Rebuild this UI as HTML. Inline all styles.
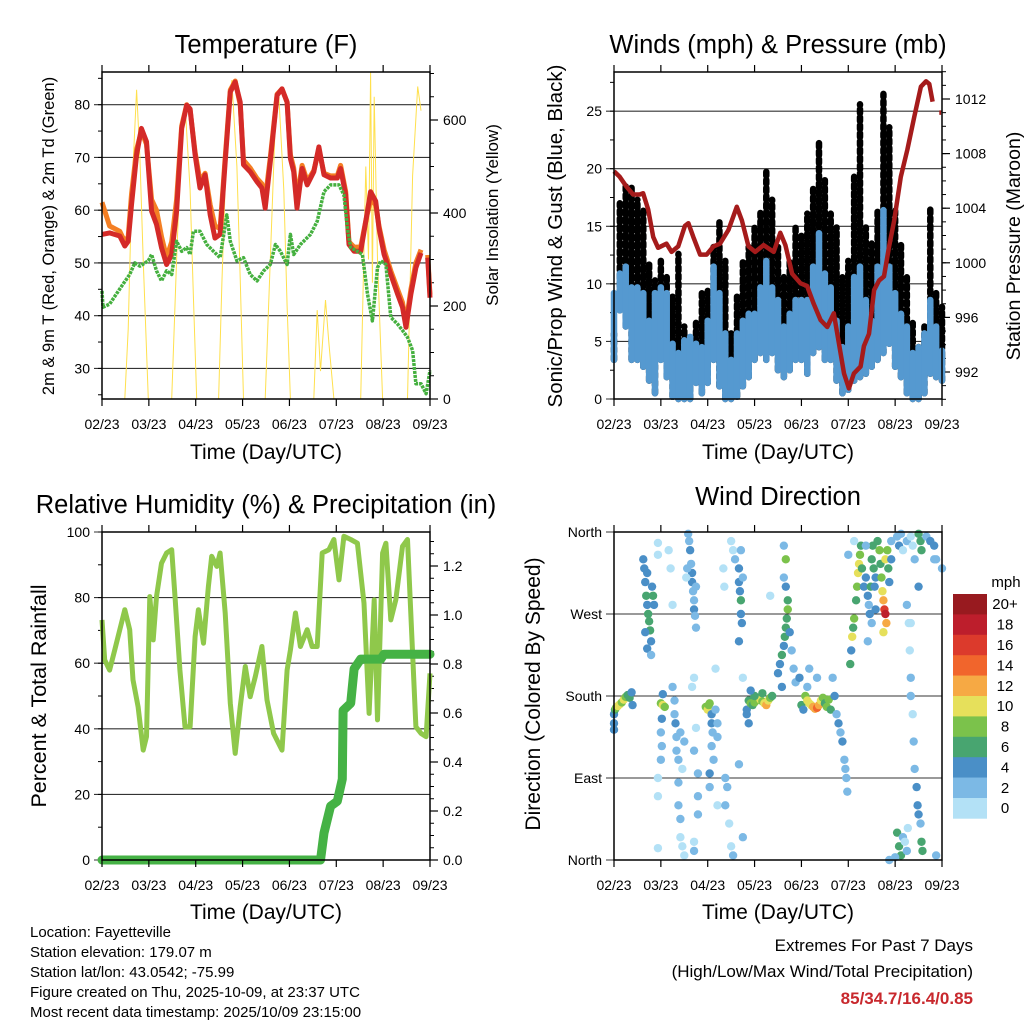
<!DOCTYPE html>
<html><head><meta charset="utf-8"><style>
html,body{margin:0;padding:0;background:#fff;}
svg{display:block;font-family:"Liberation Sans",Arial,sans-serif;}
</style></head><body>
<svg id="chart" width="1024" height="1024" viewBox="0 0 1024 1024" xmlns="http://www.w3.org/2000/svg">
<rect width="1024" height="1024" fill="#fff"/>
<g id="layer"></g>
<g font-size="15" fill="#000">
<text x="30" y="937">Location: Fayetteville</text>
<text x="30" y="957">Station elevation: 179.07 m</text>
<text x="30" y="977">Station lat/lon: 43.0542; -75.99</text>
<text x="30" y="997">Figure created on Thu, 2025-10-09, at 23:37 UTC</text>
<text x="30" y="1017">Most recent data timestamp: 2025/10/09 23:15:00</text>
</g>
<g text-anchor="end">
<text x="973" y="951" font-size="17">Extremes For Past 7 Days</text>
<text x="973" y="977" font-size="17">(High/Low/Max Wind/Total Precipitation)</text>
<text x="973" y="1004" font-size="17" font-weight="bold" fill="#c8282d">85/34.7/16.4/0.85</text>
</g>
</svg>
<script>
// ---------- DATA ----------
const dayLabels = ["02/23","03/23","04/23","05/23","06/23","07/23","08/23","09/23"];
// Temperature panel
const tHours = [0,3.9,9.1,11.7,13.4,15.1,17.7,20.2,22.8,25.4,27.9,30.5,33.1,35.7,38.2,40.8,43.4,45.1,47.7,50.2,52.8,55.4,57.9,60.5,63.1,65.7,68.2,70.8,72.5,75.9,79.4,81.9,83.6,86.2,89.7,92.2,94.8,96.5,98.2,99.9,102.5,105.1,108.5,111.1,113.7,117.1,120.5,122.2,124.8,126.5,129.1,132.5,135.1,137.6,140.2,141.9,144.5,147.9,151.4,153.9,155.7,158.2,160.8,163.4,165,166.8,168];
const temp2m = [55.4,55.7,55.1,53.2,54.1,61.0,70.5,75.5,73.0,59.8,57.3,52.9,49.7,51.6,59.8,75.5,79.9,79.2,70.5,64.2,66.7,59.1,54.7,55.4,69.2,82.4,84.3,80.5,68.6,67.3,65.4,64.2,60.4,69.2,81.8,83.0,80.5,69.8,67.3,60.4,67.9,64.8,67.3,72.0,66.7,66.1,66.1,67.9,62.9,53.5,52.2,52.2,57.9,63.5,61.7,56.6,51.6,47.8,44.1,41.6,37.8,44.1,49.1,51.9,null,51.0,43.4];
const temp9m = [61.5,57,56,54,55,63,71.5,75,72.5,62,60,55,51,54,62,76,80,79,71,65.5,67,61,57,56.5,70,82.8,84.5,80,69.5,68,66,65,62,70,82,83,80.5,70.5,68,62,68.5,65.5,67.5,71.5,67,66.5,66.5,68.5,63.5,54,53,53,58,62,61,57,52.5,48.5,45,42.5,38.5,45,50,52.5,null,51.5,44];
const tdHours = [0,0.5,3.9,7.4,10.8,14.2,16.8,19.4,23.7,25.4,27.9,30.5,33.1,35.7,38.2,40.8,43.4,45.1,46.8,50.2,53.7,57.1,60.5,63.9,65.7,69.1,72.5,75.9,79.4,82.8,86.2,88.8,91.4,94.8,96.5,98.2,101.6,106.8,110.2,113.7,117.1,121.4,123.9,125.7,127.4,130.8,133.4,136,138.5,141.1,142.8,145.4,147.9,151.4,153.9,156.5,159.1,160.8,163.4,166,168];
const dewpoint = [44.7,41.6,42.2,44.1,46.0,47.8,50.0,49.4,50.4,51.6,48.5,46.6,48.5,47.8,54.1,52.2,52.9,51.6,56.0,56.0,53.5,52.2,51.0,59.1,54.1,50.4,51.0,47.8,46.6,48.5,49.7,53.5,52.2,49.7,55.4,51.6,53.5,55.4,57.9,63.5,64.8,64.8,62.9,56.6,52.9,52.2,51.6,44.1,39.0,49.1,50.4,49.7,39.7,38.4,37.2,35.9,33.4,27.1,27.1,25.2,29.6];
const solarHours = [0,11.7,13.4,15.1,17.7,19.4,21.1,23.7,35.7,38.2,40.8,42.5,45.1,46.8,48.5,59.7,61.4,63.9,66.5,69.1,70.8,72.5,83.6,86.2,88.8,90.5,93.1,94.8,96.5,108.5,110.2,111.9,114.5,116.2,118.8,132.5,135.1,136.5,137.6,138.5,139.4,141.1,143.7,156.5,159.1,161.7,163.4];
const solar = [0,0,150,430,665,520,300,0,0,300,580,636,450,220,0,0,250,560,686,500,260,0,0,300,600,657,450,200,0,0,191,60,213,120,0,0,500,300,704,250,650,300,0,0,480,672,620];
// Wind panel
const windHours = [0,3,6,9,12,15,18,21,24,27,30,33,36,39,42,45,48,51,54,57,60,63,66,69,72,75,78,81,84,87,90,93,96,99,102,105,108,111,114,117,120,123,126,129,132,135,138,141,144,147,150,153,156,159,162,165,168];
const gustHi = [5.7,17,18.7,18.4,17.3,16.4,12,10.3,12,10.6,9.2,12.6,6.3,4.8,6.8,9.2,9.7,13.2,15.5,12,5.7,9.2,12,13.2,14.9,16.4,19.9,17.3,13.2,10.9,12,14.9,14.4,16.1,18.4,22.5,19,16.1,14.9,10.6,12,19.3,25.6,14.9,13.5,16.4,26.5,23.6,16.4,13.5,10.6,6.8,4.8,6.3,16.7,9.2,8];
const windHi = [9.2,10.9,11.5,9.7,9.7,9.2,6.8,9.2,9.7,9.2,4.8,4,5.1,5.4,4.8,4.5,6.8,11.5,9.2,5.7,3.4,5.7,6.8,7.4,7.4,9.7,12,9.7,8.6,6.3,7.4,8.6,8.6,8.6,11.5,14.4,10.9,9.7,6.8,4.5,6.3,10.6,11.5,8.6,6.8,11.5,16.4,11.5,9.2,7.4,6.3,4,4.5,5.7,8.6,6.3,4.2];
const windLo = [3.4,7.7,6.3,3.4,3.4,2.8,1.6,0.5,3.4,1.9,0.2,0,0,0,1.4,0.5,1.4,3.4,1.1,0,0,0.2,1.1,1.9,3.4,4,3.4,4,2.5,1.9,2.5,3.4,3.4,2.2,4,4.5,3.4,3.4,1.6,0.5,0.8,1.6,1.9,2.2,2.8,3.4,4,4.8,2.8,1.9,0.5,0,0,0.5,2.2,1.9,1.6];
const presHours = [0,2.9,6.3,9.8,13.2,14.9,17.5,20.1,22.6,26.9,29.5,32.9,36.3,38.1,40.6,44.1,47.5,50.9,54.3,58.6,62.9,65.5,68.9,72.3,76.6,81.8,85.2,87.8,91.2,95.5,98.9,102.3,105.8,109.2,112.6,115.2,117.8,120.3,122.9,126.3,128,130.6,133.2,135.8,138.3,140.9,143.5,146.9,150.3,153.8,157.2,159.8,161.5,163.2,165,166.6,167.6];
const pressure = [1006.7,1006.3,1005.6,1005,1005,1005.1,1003.9,1001.9,1001.1,1001.4,1000.8,1001.2,1002.7,1002.9,1001.9,1000.6,1000.6,1001.2,1001.4,1002.4,1004.1,1003.1,1001.2,1000.8,1001.3,1000.8,1002.2,1001.3,999.2,998.5,998.3,997,995.8,995.3,996.3,994.1,991.9,990.8,991.9,992.4,993.9,994.8,998,998.7,999,1001.2,1003.1,1006.3,1008.3,1010.7,1012.9,1013.3,1013.1,1011.8,null,1011,1011];
// RH panel
const rhHours = [0,1.4,3.9,6.5,9.1,11.7,14.2,15.9,18.5,21.1,22.8,24.5,26.2,27.9,30.5,33.1,35.7,37.4,39.9,42.5,45.1,47.7,49.4,52,54.5,56.2,58.8,60.5,63.1,65.7,68.2,70.8,73.4,75.9,78.5,81.9,84.5,87.9,92.2,94.8,96.5,99.1,101.6,105.1,107.6,110.2,112.8,116.2,118.8,121.4,123.9,127.4,130.8,134.2,136.8,139.4,141.1,143.7,145.4,147.9,150.5,153.9,156.5,159.1,160.8,163.4,166,168];
const rh = [73.2,61,57.9,64,70.2,76.3,70.2,54.9,46.7,33.5,37.6,80.3,67.1,80.3,90.5,93.6,94.6,80.3,57.9,40.6,40.6,68.1,76.3,66.1,83.4,92.6,89.5,93.6,75.3,47.8,32.5,46.7,59,49.8,55.9,65.1,48.8,38.6,33.5,57.9,64,75.3,65.1,70.2,65.1,65.1,93.6,94.6,97.7,85.4,98.7,97.7,96.6,78.3,44.7,79.3,42.7,93.6,96.6,73.2,79.3,95.6,97.7,63,40.6,38.6,37.6,56.9];
const precipHours = [0,111.9,113.7,117.1,120.5,123.1,123.5,127.4,129.1,132.5,142.8,144.5,168];
const precip = [0,0,0.11,0.22,0.24,0.33,0.61,0.64,0.78,0.82,0.82,0.84,0.84];
// Wind direction panel
const wdHours = [0,0.5,1,2,3,4,5,6,7,8,9,9.5,0,0,15,15.5,16,16.5,17,17.5,18,18.5,19,16,17,19,20,20.5,19.5,17,22.5,22.5,22.5,22.5,22.5,24,25,26,24.5,24,24.5,24,25,28,29,30,30,31,31.5,32,32,33,33,33,34,34,35,36,31,34,36,35,38,38.5,39,39.5,40,40,40.5,41,41,41.5,42,37,37.5,42,41,40,42,41,43,43,43,41,41,47,48,48.5,49,50,50,50.5,50,51,49,49,52,53,53,52,53,56,56.5,57,57,58,59,60,61,60,61,62,64,64,64.5,65,65,65.5,64,66,65,66,64,66,68,69,70,71,72,73,74,75,76,77,78,79,80,81,72,76,70,68,69,84,85,86,87,87.5,88,88.5,89,89,88,87,88,87,90,91,92,93,86,80,96,97,98,99,100,101,102,103,104,105,106,107,108,109,110,111,99,95,100,104,112,113,114,115,116,117,118,119,119.5,118.5,121,121.5,122,122.5,123,124,124.5,125,125.5,126,126.5,127,123,120,128,129,130,130.5,131,131.5,132,132.5,133,133.5,134,134,132,130,129,135,136,136.5,137,137.5,138,138.5,139,139.5,138,139,140,140.5,141,142,142,145,146,147,148,150,152,153,154,156,157,157.5,160,162,164,165,168,145,146,147,148,149,150,150.5,144,141,150,151,151.5,152,152,153,153.5,154,155,155.5,156,157,157.5,158,156,152,165,164];
const wdDir = [160,165,167,169,171,173,176,179,181,178,184,170,150,143,330,320,305,290,280,270,262,252,240,250,232,225,290,280,300,315,348,335,90,70,13,172,170,168,155,140,125,110,182,340,320,280,190,160,150,135,120,110,85,60,45,25,15,5,175,140,130,100,358,350,340,325,315,305,295,285,275,268,300,310,320,255,200,190,145,120,95,70,50,20,10,168,165,170,172,160,150,140,125,110,95,80,165,150,135,210,60,320,300,60,90,80,40,15,5,350,340,330,320,305,295,285,270,260,240,310,340,200,105,25,165,175,172,170,173,175,178,176,174,172,170,175,178,180,180,183,186,160,150,205,215,225,235,245,255,265,275,285,300,310,330,345,250,230,210,195,190,290,170,165,180,175,172,170,168,166,167,170,175,178,172,168,176,165,190,200,210,200,200,180,160,150,140,130,110,90,75,100,215,230,245,255,265,285,300,315,325,335,345,320,350,335,300,310,290,280,270,300,330,345,320,300,310,275,260,240,345,350,340,325,310,295,285,275,270,260,250,330,340,320,305,330,350,355,345,358,340,350,355,345,330,358,350,340,355,350,345,330,320,30,15,5,25,20,10,35,3,0,280,260,230,200,180,160,130,100,80,60,50,40,20,10,300,260,5,330];
const wdSpeed = [5,6,8,10,10,9,10,8,7,6,4,4,4,4,4,4,5,6,5,6,7,6,5,4,4,3,6,5,4,5,1,1,1,1,1,9,10,8,4,3,3,2,5,1,1,1,2,3,4,3,2,2,2,3,2,1,1,1,3,2,2,1,3,2,4,3,4,4,3,3,4,3,3,1,2,3,1,1,1,2,2,3,2,1,2,8,10,8,9,4,4,3,3,3,4,3,3,2,2,1,1,1,1,3,2,2,1,1,2,1,1,2,4,4,5,6,5,4,4,3,3,1,2,3,5,7,8,7,9,8,8,10,9,10,12,11,9,7,6,6,5,4,4,4,4,6,5,7,6,7,8,6,4,3,8,3,4,2,2,2,4,1,6,4,8,10,11,10,12,13,15,12,10,8,7,8,9,7,3,4,2,2,3,4,3,4,3,4,2,2,2,3,6,5,10,7,9,6,8,10,10,9,7,6,1,2,4,4,4,3,4,6,7,7,6,5,4,4,2,3,2,6,8,7,9,11,13,17,18,12,10,10,8,7,5,4,3,3,4,2,1,2,1,1,2,6,6,6,3,4,4,3,3,6,6,6,3,1,2,1,3,3,2,1,1,2,3,1,2,3,4,4,5,3,6,7,4,1,2,2];
const speedBins = [0,2,4,6,8,10,12,14,16,18,20];
const speedLabels = ["0","2","4","6","8","10","12","14","16","18","20+"];
const speedColors = ["#b3e1f6","#7cb9e5","#4a8fc7","#48a570","#7bc24b","#e6e05b","#f6a944","#f1652c","#dc3a2c","#bd1e2c","#981a1f"];

// ---------- HELPERS ----------
const NS = "http://www.w3.org/2000/svg";
const layer = document.getElementById("layer");
function mk(tag, attrs, parent){
  const e = document.createElementNS(NS, tag);
  for (const k in attrs) e.setAttribute(k, attrs[k]);
  (parent||layer).appendChild(e);
  return e;
}
function panel(x0,y0,x1,y1,ymin,ymax,name){
  return {x0,y0,x1,y1,
    x:h=>x0+h/168*(x1-x0),
    y:v=>y1-(v-ymin)/(ymax-ymin)*(y1-y0), name};
}
function pathFrom(hours, vals, xf, yf){
  let d="", pen=false;
  for(let i=0;i<hours.length;i++){
    if(vals[i]===null){pen=false;continue;}
    d += (pen?"L":"M")+xf(hours[i]).toFixed(1)+","+yf(vals[i]).toFixed(1);
    pen=true;
  }
  return d;
}
function frame(p, g){
  for(let i=0;i<dayLabels.length;i++){
    const x = p.x0 + i*(p.x1-p.x0)/7;
    const tb = mk("line",{x1:x,y1:p.y1,x2:x,y2:p.y1+7,stroke:"#000","stroke-width":1.2},g);
    
    
    const tt = mk("line",{x1:x,y1:p.y0,x2:x,y2:p.y0-7,stroke:"#000","stroke-width":1.2},g);
    
    
    const t = mk("text",{x:x,y:p.y1+30,"font-size":14,"text-anchor":"middle"},g);
    t.textContent = dayLabels[i];
    
    
  }
  const r = mk("rect",{x:p.x0,y:p.y0,width:p.x1-p.x0,height:p.y1-p.y0,fill:"none",stroke:"#000","stroke-width":1.5},g);
  
  
}
function grid(p, vals, labels, g, minorVals){
  vals.forEach((v,i)=>{
    const y = p.y(v);
    const l = mk("line",{x1:p.x0-8,y1:y,x2:p.x1,y2:y,stroke:"#333","stroke-width":1.1},g);
    
    
    const t = mk("text",{x:p.x0-12,y:y+5,"font-size":14,"text-anchor":"end"},g);
    t.textContent = labels[i];
    
    
  });
  (minorVals||[]).forEach(v=>{
    const y=p.y(v);
    const l = mk("line",{x1:p.x0-4,y1:y,x2:p.x0,y2:y,stroke:"#000","stroke-width":1},g);
    
    
  });
}
function rightAxis(p, yf, vals, labels, minor, g){
  vals.forEach((v,i)=>{
    const y=yf(v);
    const l = mk("line",{x1:p.x1,y1:y,x2:p.x1+8,y2:y,stroke:"#000","stroke-width":1.2},g);
    
    
    const t = mk("text",{x:p.x1+13,y:y+5,"font-size":14},g);
    t.textContent = labels[i];
    
    
  });
  minor.forEach(v=>{
    const y=yf(v);
    const l = mk("line",{x1:p.x1,y1:y,x2:p.x1+4,y2:y,stroke:"#000","stroke-width":1},g);
    
    
  });
}
function txt(x,y,s,size,name,rot,g){
  const t = mk("text",{x:x,y:y,"font-size":size,"text-anchor":"middle"},g);
  if(rot) t.setAttribute("transform","rotate(-90 "+x+" "+y+")");
  t.textContent=s;
  
  
  return t;
}
function range(a,b,s){const r=[];for(let v=a;v<=b+1e-9;v+=s)r.push(+v.toFixed(3));return r;}

// ---------- PANEL 1: Temperature ----------
{
  const g = mk("g",{});
  
  
  const p = panel(102,72,430,399,24.2,86.2);
  const ySolar = v=>399 - v*(279/600);
  grid(p,[30,40,50,60,70,80],["30","40","50","60","70","80"],g,range(25,85,5));
  rightAxis(p,ySolar,[0,200,400,600],["0","200","400","600"],range(0,700,50),g);
  const s = mk("path",{d:pathFrom(solarHours,solar,p.x,ySolar),fill:"none",stroke:"#ffe04d","stroke-width":1},g);
  
  
  const o = mk("path",{d:pathFrom(tHours,temp9m,p.x,p.y),fill:"none",stroke:"#f47f24","stroke-width":5,"stroke-linejoin":"round"},g);
  
  
  const r = mk("path",{d:pathFrom(tHours,temp2m,p.x,p.y),fill:"none",stroke:"#d42a28","stroke-width":5,"stroke-linejoin":"round"},g);
  
  
  const d = mk("path",{d:pathFrom(tdHours,dewpoint,p.x,p.y),fill:"none",stroke:"#45b03f","stroke-width":3.5,"stroke-linejoin":"round","stroke-dasharray":"3 1"},g);
  
  
  frame(p,g);
  txt(266,53,"Temperature (F)",25.5,"temperature-title",false,g);
  txt(266,459,"Time (Day/UTC)",21,"temperature-x-title",false,g);
  txt(54,236,"2m & 9m T (Red, Orange) & 2m Td (Green)",16.5,"temperature-y-title",true,g);
  txt(498,215,"Solar Insolation (Yellow)",17,"solar-y-title",true,g);
}
// ---------- PANEL 2: Winds ----------
{
  const g = mk("g",{});
  
  
  const p = panel(614,72,942,399,0,28.4);
  const yP = v=>372-(v-992)*13.65;
  grid(p,[0,5,10,15,20,25],["0","5","10","15","20","25"],g,range(0,28,2.5));
  rightAxis(p,yP,[992,996,1000,1004,1008,1012],["992","996","1000","1004","1008","1012"],range(990,1014,1),g);
  for(let i=0;i<windHours.length;i++){
    const x=p.x(windHours[i]);
    const b = mk("line",{x1:x,y1:p.y(windLo[i]),x2:x,y2:p.y(gustHi[i]),stroke:"#000","stroke-width":6.5,"stroke-linecap":"round","stroke-dasharray":"4 4"},g);
    
    
  }
  for(let i=0;i<windHours.length;i++){
    const x=p.x(windHours[i]);
    const b = mk("line",{x1:x,y1:p.y(windLo[i]),x2:x,y2:p.y(windHi[i]),stroke:"#5599d0","stroke-width":6.5,"stroke-linecap":"round"},g);
    
    
  }
  const pr = mk("path",{d:pathFrom(presHours,pressure,p.x,yP),fill:"none",stroke:"#a51b1b","stroke-width":4.5,"stroke-linejoin":"round"},g);
  
  
  frame(p,g);
  txt(778,53,"Winds (mph) & Pressure (mb)",25.5,"wind-title",false,g);
  txt(778,459,"Time (Day/UTC)",21,"wind-x-title",false,g);
  txt(562,236,"Sonic/Prop Wind & Gust (Blue, Black)",20.5,"wind-y-title",true,g);
  txt(1020,246,"Station Pressure (Maroon)",19.5,"pressure-y-title",true,g);
}
// ---------- PANEL 3: RH ----------
{
  const g = mk("g",{});
  
  
  const p = panel(102,532,430,860,0,100);
  const yPr = v=>860-v*(294/1.2);
  grid(p,[0,20,40,60,80,100],["0","20","40","60","80","100"],g,range(0,100,10));
  rightAxis(p,yPr,[0,0.2,0.4,0.6,0.8,1.0,1.2],["0.0","0.2","0.4","0.6","0.8","1.0","1.2"],range(0,1.3,0.05),g);
  const l = mk("path",{d:pathFrom(rhHours,rh,p.x,p.y),fill:"none",stroke:"#8fc84b","stroke-width":5,"stroke-linejoin":"round"},g);
  
  
  const pc = mk("path",{d:pathFrom(precipHours,precip,p.x,yPr),fill:"none",stroke:"#45b245","stroke-width":9,"stroke-linejoin":"round","stroke-linecap":"round"},g);
  
  
  frame(p,g);
  txt(266,513,"Relative Humidity (%) & Precipitation (in)",25.5,"humidity-title",false,g);
  txt(266,919,"Time (Day/UTC)",21,"humidity-x-title",false,g);
  txt(46,696,"Percent & Total Rainfall",21.5,"humidity-y-title",true,g);
}
// ---------- PANEL 4: Wind direction ----------
{
  const g = mk("g",{});
  
  
  const p = panel(614,532,942,860,0,360);
  grid(p,[0,90,180,270,360],["North","East","South","West","North"],g,[]);
  function colorFor(s){let c=0;for(let i=0;i<speedBins.length;i++) if(s>=speedBins[i]) c=i;return speedColors[c];}
  for(let i=0;i<wdHours.length;i++){
    const c = mk("circle",{cx:p.x(wdHours[i]),cy:p.y(wdDir[i]),r:4.2,fill:colorFor(wdSpeed[i])},g);
    
    
  }
  frame(p,g);
  txt(778,505,"Wind Direction",25.5,"direction-title",false,g);
  txt(778,919,"Time (Day/UTC)",21,"direction-x-title",false,g);
  txt(540,694,"Direction (Colored By Speed)",21,"direction-y-title",true,g);
  const cb = mk("g",{},g);
  
  
  const top=594, h=20.4;
  for(let i=0;i<speedColors.length;i++){
    const idx = speedColors.length-1-i;
    const r = mk("rect",{x:953,y:top+i*h,width:34,height:h+0.3,fill:speedColors[idx]},cb);
    
    
    const t = mk("text",{x:1005,y:top+i*h+h/2+5,"font-size":15,"text-anchor":"middle"},cb);
    t.textContent = speedLabels[idx];
    
    
  }
  const u = mk("text",{x:1006,y:587,"font-size":15,"text-anchor":"middle"},cb);
  u.textContent="mph";
  
  
}
</script>
</body></html>
